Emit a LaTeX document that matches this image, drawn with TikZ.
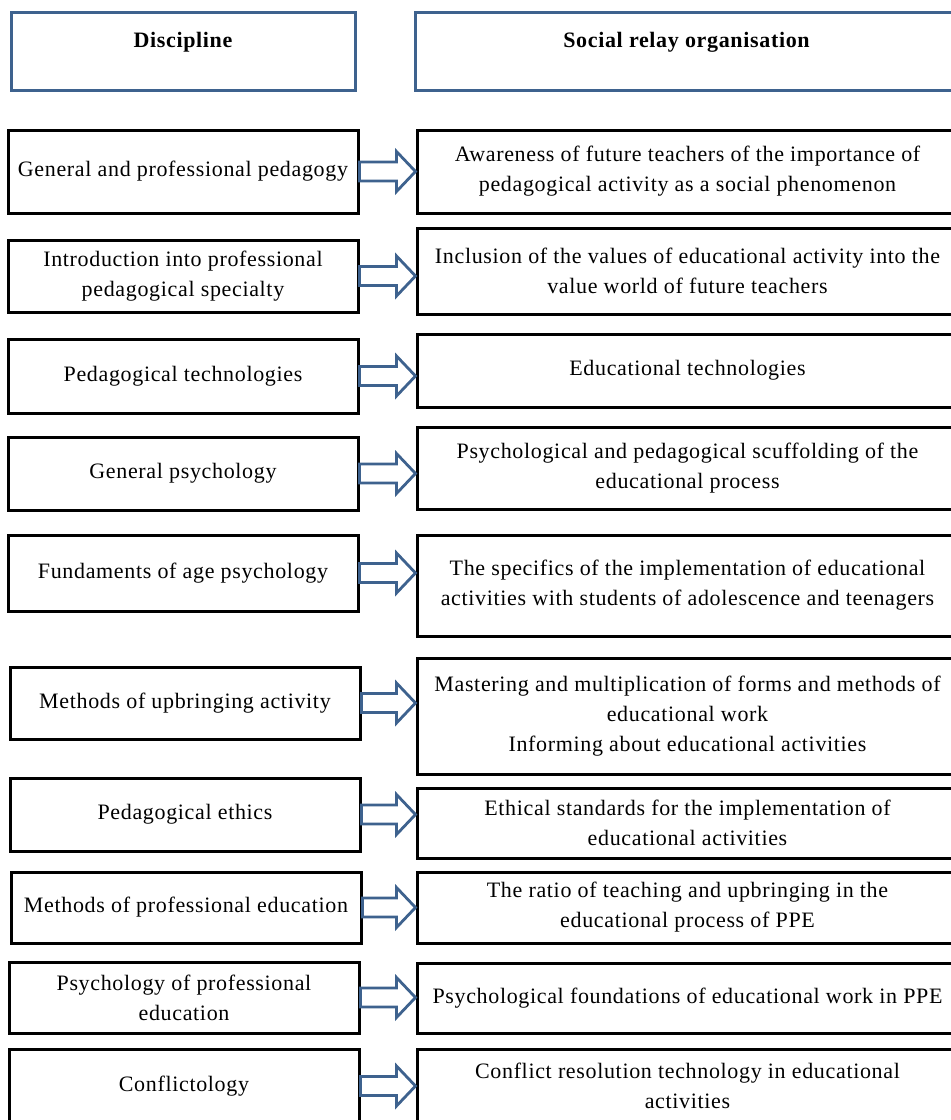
\documentclass[tikz,border=0pt]{standalone}
\usepackage{fontspec}
\setmainfont{Liberation Serif}[LetterSpace=3]
\usetikzlibrary{calc}

\definecolor{relayblue}{RGB}{62,98,142}

\tikzset{
  headbox/.style={draw=relayblue, line width=3pt, align=center, inner sep=2pt,
    font=\fontsize{22}{30}\selectfont\bfseries},
  disc/.style={draw=black, line width=3pt, minimum width=350, align=center,
    inner sep=2pt, font=\fontsize{22}{30}\selectfont},
  relay/.style={draw=black, line width=3pt, minimum width=541, align=center,
    inner sep=2pt, font=\fontsize{22}{30}\selectfont},
  hollow/.style={draw=relayblue, line width=2.8pt, fill=white, line join=miter}
}

% hollow block arrow from a discipline to its relay box
\newcommand{\relayarrow}[2]{%
  \draw[hollow] ($(#1.east)+(0,-9.5)$) -- ($(#1.east -| #2.west)+(-19,-9.5)$)
    -- ($(#1.east -| #2.west)+(-19,-20)$) -- (#1.east -| #2.west)
    -- ($(#1.east -| #2.west)+(-19,20)$) -- ($(#1.east -| #2.west)+(-19,9.5)$)
    -- ($(#1.east)+(0,9.5)$) -- cycle;}

\begin{document}
\begin{tikzpicture}[x=1pt,y=-1pt]
  \useasboundingbox (0,0) rectangle (951,1120);

  \node[headbox, minimum width=344, minimum height=78] (hdisc) at (183,51) {Discipline\\[-7pt]~};
  \node[headbox, minimum width=543, minimum height=78] (hrelay) at (686.5,51) {Social relay organisation\\[-7pt]~};

  \node[disc, minimum height=83] (d1) at (183,171.5) {General and professional pedagogy};
  \node[disc, minimum height=72] (d2) at (183,276) {Introduction into professional\\pedagogical specialty};
  \node[disc, minimum height=74] (d3) at (183,376) {Pedagogical technologies};
  \node[disc, minimum height=73] (d4) at (183,473.5) {General psychology};
  \node[disc, minimum height=76] (d5) at (183,573) {Fundaments of age psychology};
  \node[disc, minimum height=72] (d6) at (185,703) {Methods of upbringing activity};
  \node[disc, minimum height=73] (d7) at (185,814.5) {Pedagogical ethics};
  \node[disc, minimum height=71] (d8) at (186,907.5) {Methods of professional education};
  \node[disc, minimum height=71] (d9) at (184,997.5) {Psychology of professional\\education};
  \node[disc, minimum height=74] (d10) at (184,1086) {Conflictology};

  \node[relay, minimum height=83] (r1) at (687.5,171.5) {Awareness of future teachers of the importance of\\pedagogical activity as a social phenomenon};
  \node[relay, minimum height=86] (r2) at (687.5,271) {Inclusion of the values of educational activity into the\\value world of future teachers};
  \node[relay, minimum height=73] (r3) at (687.5,370.5) {Educational technologies};
  \node[relay, minimum height=82] (r4) at (687.5,468) {Psychological and pedagogical scuffolding of the\\educational process};
  \node[relay, minimum height=101] (r5) at (687.5,585.5) {The specifics of the implementation of educational\\activities with students of adolescence and teenagers};
  \node[relay, minimum height=116] (r6) at (687.5,716) {Mastering and multiplication of forms and methods of\\educational work\\Informing about educational activities};
  \node[relay, minimum height=70] (r7) at (687.5,823) {Ethical standards for the implementation of\\educational activities};
  \node[relay, minimum height=71] (r8) at (687.5,907.5) {The ratio of teaching and upbringing in the\\educational process of PPE};
  \node[relay, minimum height=70] (r9) at (687.5,998) {Psychological foundations of educational work in PPE};
  \node[relay, minimum height=73] (r10) at (687.5,1085.5) {Conflict resolution technology in educational\\activities};

  \relayarrow{d1}{r1}
  \relayarrow{d2}{r2}
  \relayarrow{d3}{r3}
  \relayarrow{d4}{r4}
  \relayarrow{d5}{r5}
  \relayarrow{d6}{r6}
  \relayarrow{d7}{r7}
  \relayarrow{d8}{r8}
  \relayarrow{d9}{r9}
  \relayarrow{d10}{r10}
\end{tikzpicture}
\end{document}
